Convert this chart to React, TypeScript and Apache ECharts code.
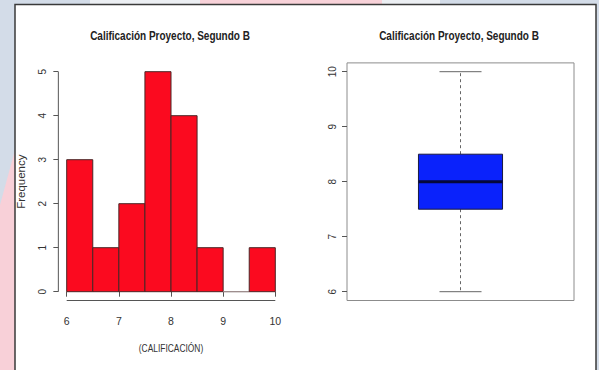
import React, { useEffect, useRef } from "react";
import * as echarts from "echarts";

// ---- data ----
const chartTitle = "Calificación Proyecto, Segundo B";
const xLabel = "(CALIFICACIÓN)";
const yLabel = "Frequency";
const binStarts = [6, 6.5, 7, 7.5, 8, 8.5, 9, 9.5];
const binWidth = 0.5;
const counts = [3, 1, 2, 5, 4, 1, 0, 1];
const histXTicks = [6, 7, 8, 9, 10];
const histYTicks = [0, 1, 2, 3, 4, 5];
// boxplot: min, q1, median, q3, max
const boxStats = [6, 7.5, 8, 8.5, 10];
const boxYTicks = [6, 7, 8, 9, 10];

// axis ranges (R style 4% extension)
const hxMin = 5.84, hxMax = 10.16, hyMin = -0.2, hyMax = 5.2;
const bxMin = 0.46, bxMax = 1.54, byMin = 5.84, byMax = 10.16;

const SANS = "'Liberation Sans', Arial, sans-serif";
const AX = "#555";
const TXT = "#333";

export default function App() {
  const ref = useRef<HTMLDivElement>(null);
  useEffect(() => {
    document.body.style.margin = "0";
    const chart = echarts.init(ref.current!, null, { renderer: "svg" });
    const option: any = {
      animation: false,
      backgroundColor: "#d3dce8",
      graphic: [
        { type: "rect", z: -100, shape: { x: 90, y: 0, width: 110, height: 4 }, style: { fill: "#eceff3" } },
        { type: "rect", z: -100, shape: { x: 200, y: 0, width: 182, height: 4 }, style: { fill: "#f8d2d9" } },
        { type: "rect", z: -100, shape: { x: 382, y: 0, width: 58, height: 4 }, style: { fill: "#eceff3" } },
        { type: "polygon", z: -100, shape: { points: [[0, 205], [15, 150], [15, 370], [0, 370]] }, style: { fill: "#f8d0d8" } },
        { type: "rect", z: -90, shape: { x: 15, y: 4.5, width: 581, height: 370 }, style: { fill: "#ffffff", stroke: "#3a3a3a", lineWidth: 1.5 } },
        { type: "text", z: 10, x: 170, y: 36, scaleX: 0.8, style: { text: chartTitle, font: `bold 12.5px ${SANS}`, fill: "#222", textAlign: "center", textVerticalAlign: "middle" } },
        { type: "text", z: 10, x: 459, y: 36, scaleX: 0.8, style: { text: chartTitle, font: `bold 12.5px ${SANS}`, fill: "#222", textAlign: "center", textVerticalAlign: "middle" } },
        { type: "text", z: 10, x: 171, y: 348, scaleX: 0.8, style: { text: xLabel, font: `10.5px ${SANS}`, fill: TXT, textAlign: "center", textVerticalAlign: "middle" } },
      ],
      grid: [
        { left: 58.35, right: 599 - 283.65, top: 62.9, bottom: 370 - 300.5 },
        { left: 347, right: 599 - 574, top: 62.9, bottom: 370 - 300.5, show: true, borderColor: "#8c8c8c", borderWidth: 1, backgroundColor: "transparent" },
      ],
      xAxis: [
        {
          type: "value", gridIndex: 0, min: hxMin, max: hxMax,
          axisLine: { show: false }, splitLine: { show: false },
          axisTick: { show: true, customValues: histXTicks, length: 5, lineStyle: { color: AX } },
          axisLabel: { customValues: histXTicks, margin: 15, color: TXT, fontFamily: SANS, fontSize: 10.5 },
        },
        { type: "value", gridIndex: 1, min: bxMin, max: bxMax, show: false },
      ],
      yAxis: [
        {
          type: "value", gridIndex: 0, min: hyMin, max: hyMax,
          axisLine: { show: false }, splitLine: { show: false },
          axisTick: { show: true, customValues: histYTicks, length: 5, lineStyle: { color: AX } },
          axisLabel: { customValues: histYTicks, rotate: 90, margin: 11, color: TXT, fontFamily: SANS, fontSize: 10 },
          name: yLabel, nameLocation: "middle", nameRotate: 90, nameGap: 31,
          nameTextStyle: { color: TXT, fontFamily: SANS, fontSize: 11.5 },
        },
        {
          type: "value", gridIndex: 1, min: byMin, max: byMax,
          axisLine: { show: false }, splitLine: { show: false },
          axisTick: { show: true, customValues: boxYTicks, length: 5, lineStyle: { color: AX } },
          axisLabel: { customValues: boxYTicks, rotate: 90, margin: 10, color: TXT, fontFamily: SANS, fontSize: 10 },
        },
      ],
      series: [
        {
          type: "custom", xAxisIndex: 0, yAxisIndex: 0,
          encode: { x: 0, y: 1 },
          data: binStarts.map((s, i) => [s, counts[i]]),
          renderItem: (params: any, api: any) => {
            const s = api.value(0);
            const c = api.value(1);
            const p1 = api.coord([s, c]);
            const p2 = api.coord([s + binWidth, 0]);
            return {
              type: "rect",
              shape: { x: p1[0], y: p1[1], width: p2[0] - p1[0], height: p2[1] - p1[1] },
              style: { fill: "#fb0a1f", stroke: c > 0 ? "#4a2626" : "#9a8a8a", lineWidth: 1 },
            };
          },
        },
        {
          type: "custom", xAxisIndex: 0, yAxisIndex: 0,
          data: [[histXTicks[0], histYTicks[0]]],
          renderItem: (params: any, api: any) => {
            const xa = api.coord([histXTicks[0], hyMin]);
            const xb = api.coord([histXTicks[histXTicks.length - 1], hyMin]);
            const ya = api.coord([hxMin, histYTicks[0]]);
            const yb = api.coord([hxMin, histYTicks[histYTicks.length - 1]]);
            const st = { stroke: AX, lineWidth: 1 };
            return {
              type: "group",
              children: [
                { type: "line", shape: { x1: xa[0], y1: xa[1], x2: xb[0], y2: xb[1] }, style: st },
                { type: "line", shape: { x1: ya[0], y1: ya[1], x2: yb[0], y2: yb[1] }, style: st },
              ],
            };
          },
        },
        {
          type: "custom", xAxisIndex: 1, yAxisIndex: 1,
          data: [[1, ...boxStats]],
          renderItem: (params: any, api: any) => {
            const x = api.value(0);
            const lo = api.coord([x, api.value(1)]);
            const q1 = api.coord([x, api.value(2)]);
            const med = api.coord([x, api.value(3)]);
            const q3 = api.coord([x, api.value(4)]);
            const hi = api.coord([x, api.value(5)]);
            const half = api.size([0.2, 0])[0];
            const cap = api.size([0.1, 0])[0];
            const cx = med[0];
            const dash = { stroke: "#666", lineWidth: 1, lineDash: [3, 3] };
            const solid = { stroke: "#666", lineWidth: 1 };
            return {
              type: "group",
              children: [
                { type: "line", shape: { x1: cx, y1: q3[1], x2: cx, y2: hi[1] }, style: dash },
                { type: "line", shape: { x1: cx, y1: q1[1], x2: cx, y2: lo[1] }, style: dash },
                { type: "line", shape: { x1: cx - cap, y1: hi[1], x2: cx + cap, y2: hi[1] }, style: solid },
                { type: "line", shape: { x1: cx - cap, y1: lo[1], x2: cx + cap, y2: lo[1] }, style: solid },
                { type: "rect", shape: { x: cx - half, y: q3[1], width: 2 * half, height: q1[1] - q3[1] }, style: { fill: "#0a22fb", stroke: "#1a1a40", lineWidth: 1 } },
                { type: "line", shape: { x1: cx - half, y1: med[1], x2: cx + half, y2: med[1] }, style: { stroke: "#05083a", lineWidth: 3 } },
              ],
            };
          },
        },
      ],
    };
    chart.setOption(option);
    return () => chart.dispose();
  }, []);
  return <div ref={ref} style={{ width: 599, height: 370 }} />;
}
